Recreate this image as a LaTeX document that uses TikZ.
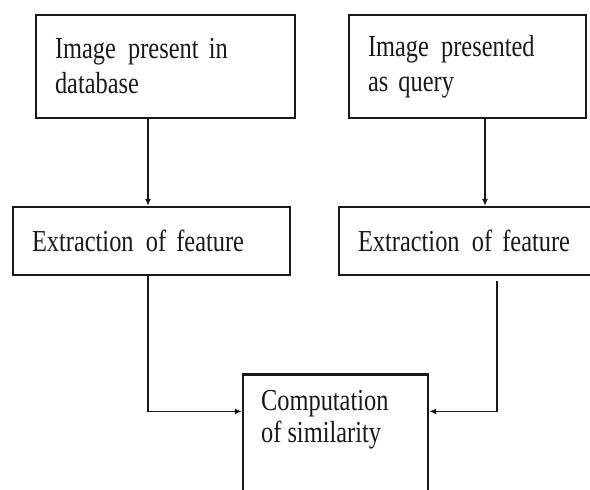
\documentclass[tikz,border=0pt]{standalone}
\usepackage{fontspec}
\setmainfont{Liberation Serif}
\newfontfamily\tallserif[FakeStretch=0.8]{Liberation Serif}
\usepackage{tikz}
\usetikzlibrary{positioning}
\usetikzlibrary{arrows.meta}

\begin{document}
\begin{tikzpicture}[x=1pt, y=-1pt,
    box/.style={draw=black!90, line width=2.2pt, align=left, inner xsep=19pt,
                font=\tallserif\fontsize{30.5}{35}\selectfont, text=black!90},
    arr/.style={-{Latex[length=7pt,width=6pt]}, line width=1.8pt, draw=black!90}]

    \useasboundingbox (0,0) rectangle (590,490);

    \node [box, text width=221pt, minimum height=103pt] (db)  at (165.5,66.5)
        {Image\hspace{2pt} present in\\database};
    \node [box, text width=199pt, minimum height=103pt] (qry) at (467.5,66.5)
        {Image\hspace{2pt} presented\\as query};

    \node [box, text width=239pt, minimum height=68pt] (featdb) at (151.5,241)
        {Extraction\hspace{2pt} of feature};
    \node [box, text width=224pt, minimum height=68pt] (featq)  at (470,241)
        {Extraction\hspace{2pt} of feature};

    \node [box, minimum width=185pt, minimum height=135pt] (sim) at (335.5,442) {};
    \node [anchor=north west, inner sep=0pt, align=left, text=black!90,
           font=\tallserif\fontsize{30.5}{32}\selectfont]
        (simtext) at ([xshift=19pt, yshift=-17pt]sim.north west)
        {Computation\\of similarity};

    \coordinate (simL) at ([yshift=-38pt]sim.north west);
    \coordinate (simR) at ([yshift=-38pt]sim.north east);

    \draw [arr] (db.south -| 148,0) -- (featdb.north -| 148,0);
    \draw [arr] (qry.south -| 485,0) -- (featq.north -| 485,0);

    \draw [arr] (featdb.south -| 148,0) |- (simL);
    \draw [arr] ([yshift=-5pt]featq.south -| 497,0) |- (simR);

\end{tikzpicture}
\end{document}
